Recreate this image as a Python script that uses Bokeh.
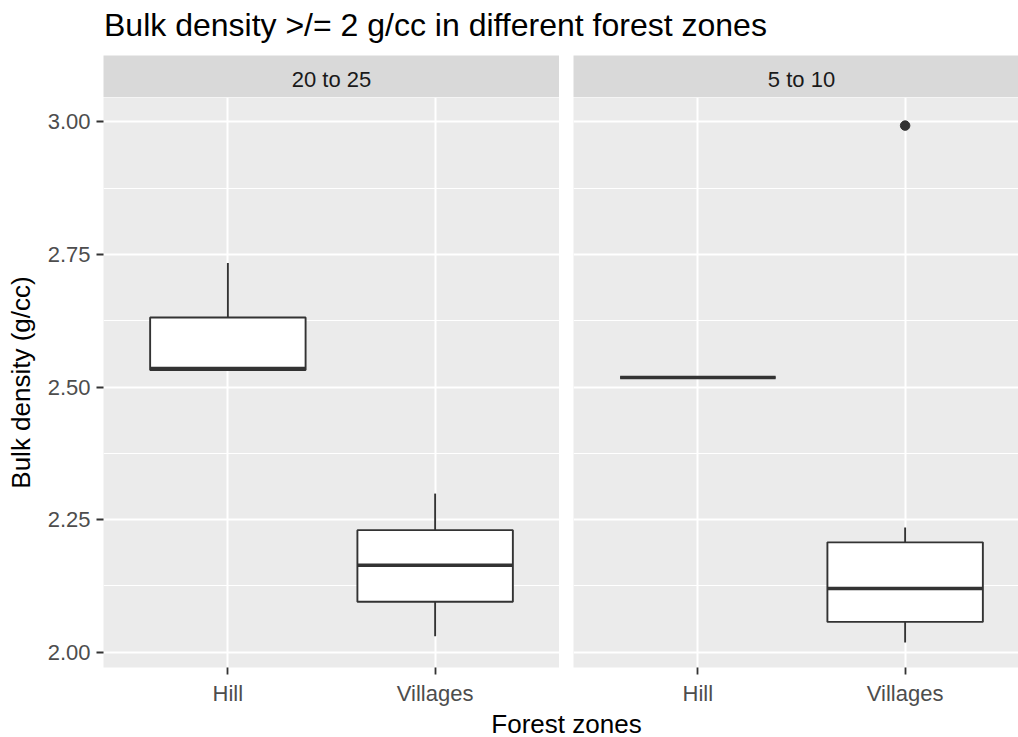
from bokeh.plotting import figure
from bokeh.models import Range1d, FixedTicker, Label, Spacer
from bokeh.layouts import column, row
from bokeh.embed import file_html
from bokeh.resources import INLINE

FONT = "Liberation Sans"

# ---- data -------------------------------------------------------------
zones = ["Hill", "Villages"]
facets = ["20 to 25", "5 to 10"]

# box-plot summaries (one entry per zone) for the "20 to 25" facet
lower_20_25 = [2.532, 2.030]
q1_20_25 = [2.532, 2.095]
median_20_25 = [2.535, 2.164]
q3_20_25 = [2.631, 2.230]
upper_20_25 = [2.734, 2.299]
outlier_zone_20_25 = []
outlier_value_20_25 = []

# box-plot summaries for the "5 to 10" facet
lower_5_10 = [2.518, 2.018]
q1_5_10 = [2.518, 2.057]
median_5_10 = [2.518, 2.120]
q3_5_10 = [2.518, 2.207]
upper_5_10 = [2.518, 2.235]
outlier_zone_5_10 = ["Villages"]
outlier_value_5_10 = [2.993]

y_ticks = [2.00, 2.25, 2.50, 2.75, 3.00]
y_tick_labels = ["2.00", "2.25", "2.50", "2.75", "3.00"]
y_minor_ticks = [2.125, 2.375, 2.625, 2.875]

title_text = "Bulk density >/= 2 g/cc in different forest zones"
x_title = "Forest zones"
y_title = "Bulk density (g/cc)"

# ---- layout constants (pixels) ---------------------------------------
TOTAL_W = 1018
LEFT = 103
PANEL_W = 456
GAP = 14
PANEL2_W = TOTAL_W - LEFT - PANEL_W - GAP
PANEL_H = 570
STRIP_H = 42
TITLE_H = 55
AXIS_H = 40
XTITLE_H = 30

BG = "#EBEBEB"
STRIP_BG = "#D9D9D9"
INK = "#333333"
TICK_TXT = "#4D4D4D"
SMALL = "22px"
MEDIUM = "26px"
LARGE = "32px"

# discrete positions of the zones, with ggplot-style 0.6 expansion
positions = [i + 1 for i in range(len(zones))]
x_lo = positions[0] - 0.6
x_hi = positions[-1] + 0.6
units_per_px = (x_hi - x_lo) / PANEL_W
x_range_1 = Range1d(x_lo, x_hi)
x_range_2 = Range1d(x_lo, x_lo + units_per_px * PANEL2_W)
y_range = Range1d(1.971, 3.046)
BOX_W = 0.75


def blank_fig(w, h):
    f = figure(width=w, height=h, x_range=Range1d(0, w), y_range=Range1d(0, h),
               output_backend="svg", toolbar_location=None, title=None,
               x_axis_location=None, y_axis_location=None,
               min_border_left=0, min_border_right=0,
               min_border_top=0, min_border_bottom=0,
               outline_line_color=None, border_fill_color="white",
               background_fill_color="white")
    f.grid.visible = False
    return f


def style_axis(ax):
    ax.axis_line_color = None
    ax.major_tick_in = 0
    ax.major_tick_out = 7
    ax.major_tick_line_color = INK
    ax.major_tick_line_width = 1.8
    ax.minor_tick_line_color = None
    ax.major_label_standoff = 6
    ax.major_label_text_font = FONT
    ax.major_label_text_font_size = SMALL
    ax.major_label_text_color = TICK_TXT


def make_panel(frame_w, x_rng, lower, q1, med, q3, upper, out_zone, out_val, show_y):
    p = figure(frame_width=frame_w, frame_height=PANEL_H,
               x_range=x_rng, y_range=y_range,
               output_backend="svg", toolbar_location=None, title=None,
               y_axis_location="left" if show_y else None,
               min_border_left=LEFT if show_y else 0, min_border_right=0,
               min_border_top=0, min_border_bottom=AXIS_H,
               background_fill_color=BG, border_fill_color="white",
               outline_line_color=None)

    # grid
    p.xgrid.ticker = FixedTicker(ticks=positions)
    p.xgrid.grid_line_color = "white"
    p.xgrid.grid_line_width = 2
    p.ygrid.ticker = FixedTicker(ticks=y_ticks, minor_ticks=y_minor_ticks)
    p.ygrid.grid_line_color = "white"
    p.ygrid.grid_line_width = 2
    p.ygrid.minor_grid_line_color = "white"
    p.ygrid.minor_grid_line_width = 1.1

    # x axis
    xa = p.xaxis[0]
    xa.ticker = FixedTicker(ticks=positions)
    xa.major_label_overrides = {pos: z for pos, z in zip(positions, zones)}
    style_axis(xa)

    if show_y:
        ya = p.yaxis[0]
        ya.ticker = FixedTicker(ticks=y_ticks)
        ya.major_label_overrides = {t: s for t, s in zip(y_ticks, y_tick_labels)}
        style_axis(ya)
        ya.axis_label = y_title
        ya.axis_label_text_font = FONT
        ya.axis_label_text_font_size = MEDIUM
        ya.axis_label_text_font_style = "normal"
        ya.axis_label_text_color = "black"
        ya.axis_label_standoff = 9

    # whiskers
    p.segment(x0=positions, y0=q3, x1=positions, y1=upper,
              line_color=INK, line_width=1.9)
    p.segment(x0=positions, y0=q1, x1=positions, y1=lower,
              line_color=INK, line_width=1.9)
    # boxes
    p.vbar(x=positions, width=BOX_W, bottom=q1, top=q3,
           fill_color="white", line_color=INK, line_width=1.9)
    # medians
    p.segment(x0=[x - BOX_W / 2 for x in positions], y0=med,
              x1=[x + BOX_W / 2 for x in positions], y1=med,
              line_color=INK, line_width=3.5)
    # outliers
    if out_val:
        out_x = [positions[zones.index(z)] for z in out_zone]
        p.scatter(x=out_x, y=out_val, size=9.5, fill_color=INK, line_color=INK)
    return p


def make_strip(label, frame_w, x_rng, left):
    s = figure(frame_width=frame_w, frame_height=STRIP_H,
               x_range=x_rng, y_range=Range1d(0, STRIP_H),
               output_backend="svg", toolbar_location=None, title=None,
               x_axis_location=None, y_axis_location=None,
               min_border_left=left, min_border_right=0,
               min_border_top=0, min_border_bottom=0,
               background_fill_color=STRIP_BG, border_fill_color="white",
               outline_line_color=None)
    s.grid.visible = False
    s.add_layout(Label(x=(positions[0] + positions[-1]) / 2, y=STRIP_H / 2 - 2.5,
                       text=label, text_align="center",
                       text_baseline="middle", text_font=FONT,
                       text_font_size=SMALL, text_color="#1A1A1A"))
    return s


# ---- build ------------------------------------------------------------
head = blank_fig(TOTAL_W, TITLE_H)
head.add_layout(Label(x=LEFT + 0.5, y=TITLE_H - 24.5, text=title_text,
                      text_align="left", text_baseline="middle",
                      text_font=FONT, text_font_size=LARGE,
                      text_color="black"))

strip1 = make_strip(facets[0], PANEL_W, x_range_1, LEFT)
strip2 = make_strip(facets[1], PANEL2_W, x_range_2, 0)

p1 = make_panel(PANEL_W, x_range_1, lower_20_25, q1_20_25, median_20_25,
                q3_20_25, upper_20_25, outlier_zone_20_25, outlier_value_20_25, True)
p2 = make_panel(PANEL2_W, x_range_2, lower_5_10, q1_5_10, median_5_10,
                q3_5_10, upper_5_10, outlier_zone_5_10, outlier_value_5_10, False)

foot = blank_fig(TOTAL_W, XTITLE_H)
foot.add_layout(Label(x=LEFT + (2 * PANEL_W + GAP) / 2, y=15,
                      text=x_title, text_align="center", text_baseline="middle",
                      text_font=FONT, text_font_size=MEDIUM,
                      text_color="black"))

layout = column(
    head,
    row(strip1, Spacer(width=GAP, height=STRIP_H), strip2),
    row(p1, Spacer(width=GAP, height=PANEL_H + AXIS_H), p2),
    foot,
)

open("out.html", "w").write(file_html(layout, INLINE))
